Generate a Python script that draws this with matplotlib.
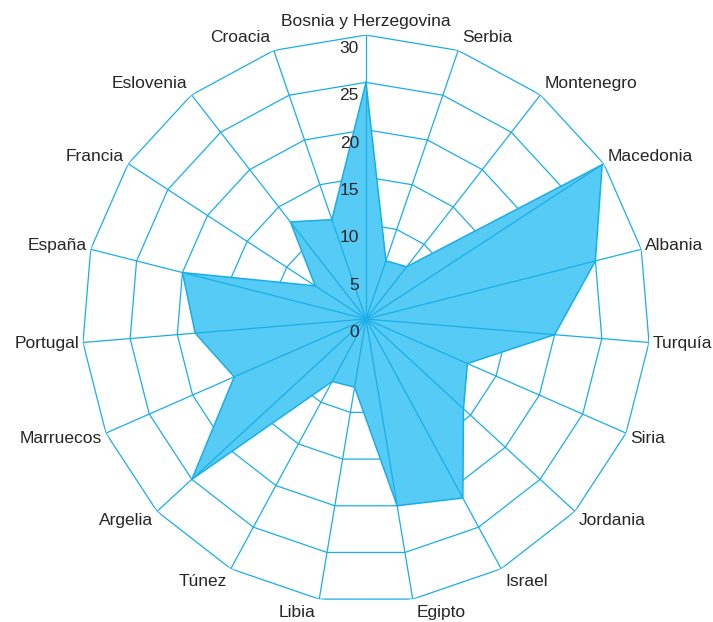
import numpy as np
import matplotlib
matplotlib.use("Agg")
import matplotlib.pyplot as plt

countries = ["Bosnia y Herzegovina", "Serbia", "Montenegro", "Macedonia", "Albania",
             "Turquía", "Siria", "Jordania", "Israel", "Egipto", "Libia", "Túnez",
             "Argelia", "Marruecos", "Portugal", "España", "Francia", "Eslovenia", "Croacia"]
values = [25, 6.5, 7, 29.8, 25, 20, 11.7, 14, 21.5, 20, 7.3, 7.5,
          25, 15.2, 18.1, 20, 6.4, 13, 11.1]
rings = [5, 10, 15, 20, 25, 30]
tick_vals = [0, 5, 10, 15, 20, 25, 30]

line_c = "#1aaee8"
fill_c = "#56cbf5"
text_c = "#262626"
plt.rcParams['font.family'] = ['Liberation Sans', 'DejaVu Sans']

n = len(countries)
theta = np.arange(n) * 2 * np.pi / n
closed = np.append(theta, theta[0])

fig = plt.figure(figsize=(7.13, 6.22), dpi=100)
ax = fig.add_axes([0.1150, 0.0305, 0.7966, 0.9132], projection='polar')
ax.set_theta_zero_location('N')
ax.set_theta_direction(-1)
ax.set_ylim(0, 30)
ax.grid(False)
ax.spines['polar'].set_visible(False)
ax.set_xticks([])
ax.set_yticks([])
ax.patch.set_visible(False)

# polygonal rings (under the fill)
for r in rings:
    ax.plot(closed, [r] * len(closed), color=line_c, lw=0.9, zorder=1)

# data polygon
ax.fill(closed, np.append(values, values[0]), color=fill_c, zorder=2, lw=0)
ax.plot(closed, np.append(values, values[0]), color=line_c, lw=1.1, zorder=4)

# spokes (over the fill)
for t in theta:
    ax.plot([t, t], [0, 30], color=line_c, lw=0.9, zorder=3)

# radial tick labels
for v in tick_vals:
    ax.annotate(str(v), xy=(0, v), xytext=(-7, -6), textcoords='offset pixels',
                ha='right', va='top', fontsize=12.5, color=text_c, zorder=5)

# category labels
for name, t in zip(countries, theta):
    s, c = np.sin(t), np.cos(t)
    if abs(s) < 0.05:
        ha = 'center'
    elif s > 0:
        ha = 'left'
    else:
        ha = 'right'
    dx = 4 * np.sign(s) if abs(s) >= 0.05 else 0
    dy = 14 * c
    ax.annotate(name, xy=(t, 30), xytext=(dx, dy), textcoords='offset pixels',
                ha=ha, va='center', fontsize=12.5, color=text_c)

fig.savefig("out.png", dpi=100)
